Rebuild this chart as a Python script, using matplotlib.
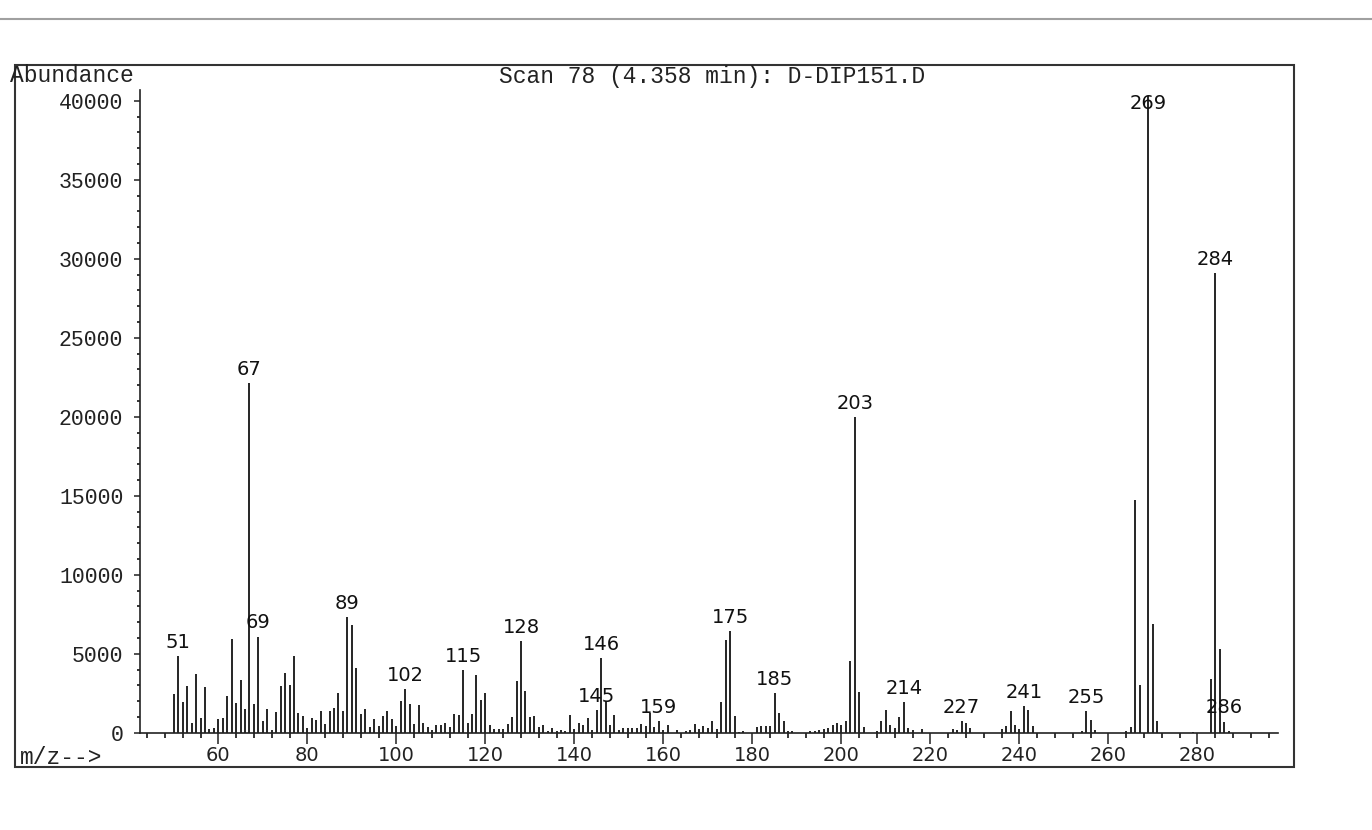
import matplotlib
matplotlib.use("Agg")
import matplotlib.pyplot as plt
from matplotlib.patches import Rectangle
from matplotlib.lines import Line2D
from matplotlib.ticker import MultipleLocator

# ---- data (m/z and abundance) ----
mz = [50, 51, 52, 53, 54, 55, 56, 57, 58, 59, 60, 61, 62, 63, 64, 65, 66, 67, 68, 69,
      70, 71, 72, 73, 74, 75, 76, 77, 78, 79, 80, 81, 82, 83, 84, 85, 86, 87, 88, 89,
      90, 91, 92, 93, 94, 95, 96, 97, 98, 99, 100, 101, 102, 103, 104, 105, 106, 107, 108, 109,
      110, 111, 112, 113, 114, 115, 116, 117, 118, 119, 120, 121, 122, 123, 124, 125, 126, 127, 128, 129,
      130, 131, 132, 133, 134, 135, 136, 137, 138, 139, 140, 141, 142, 143, 144, 145, 146, 147, 148, 149,
      150, 151, 152, 153, 154, 155, 156, 157, 158, 159, 160, 161, 163, 165, 166, 167, 168, 169,
      170, 171, 172, 173, 174, 175, 176, 177, 178, 181, 182, 183, 184, 185, 186, 187, 188, 189,
      193, 194, 195, 196, 197, 198, 199, 200, 201, 202, 203, 204, 205, 208, 209,
      210, 211, 212, 213, 214, 215, 216, 218, 225, 226, 227, 228, 229,
      236, 237, 238, 239, 240, 241, 242, 243, 254, 255, 256, 257,
      264, 265, 266, 267, 269, 270, 271, 279, 283, 284, 285, 286, 287]
abundance = [2430, 4850, 1920, 2975, 610, 3690, 930, 2890, 230, 320, 865, 950, 2320, 5910, 1880, 3330, 1520, 22150, 1815, 6080,
             760, 1520, 170, 1310, 2975, 3800, 3000, 4850, 1270, 1055, 275, 930, 800, 1390, 550, 1350, 1560, 2490, 1350, 7320,
             6815, 4070, 1160, 1480, 340, 890, 440, 1030, 1390, 845, 420, 2030, 2740, 1815, 550, 1730, 610, 380, 170, 505,
             485, 630, 340, 1180, 1140, 3950, 630, 1180, 3630, 2090, 2510, 485, 230, 230, 250, 550, 970, 3250, 5780, 2640,
             1010, 1080, 380, 485, 130, 275, 100, 170, 130, 1120, 230, 610, 485, 910, 200, 1450, 4700, 2030, 506, 1100,
             150, 316, 316, 295, 295, 550, 420, 1270, 360, 760, 200, 465, 150, 85, 150, 530, 250, 420,
             295, 760, 210, 1940, 5850, 6420, 1030, 40, 85, 360, 400, 400, 400, 2530, 1245, 720, 130, 85,
             85, 130, 170, 250, 316, 465, 610, 485, 760, 4560, 20000, 2575, 340, 85, 720,
             1410, 465, 275, 990, 1940, 295, 190, 230, 230, 190, 720, 610, 316,
             250, 440, 1370, 505, 250, 1710, 1455, 400, 130, 1350, 820, 190,
             105, 360, 14700, 3000, 40300, 6850, 760, 65, 3400, 29100, 5300, 700, 100]
labeled = [51, 67, 69, 89, 102, 115, 128, 145, 146, 159, 175, 185, 203, 214, 227, 241, 255, 269, 284, 286]
x_ticks = [60, 80, 100, 120, 140, 160, 180, 200, 220, 240, 260, 280]
y_ticks = [0, 5000, 10000, 15000, 20000, 25000, 30000, 35000, 40000]
title = "Scan 78 (4.358 min): D-DIP151.D"

W, H = 1372, 830
fig = plt.figure(figsize=(W / 100, H / 100), dpi=100)
fig.patch.set_facecolor("white")

# axes placement (pixel based)
ax_l, ax_r, ax_b, ax_t = 140, 1278, 732.7, 90
ax = fig.add_axes([ax_l / W, (H - ax_b) / H, (ax_r - ax_l) / W, (ax_b - ax_t) / H])
ax.set_xlim(42.4, 298.1)
ax.set_ylim(0, 40680)

ax.vlines(mz, 0, abundance, color="black", lw=1.2)

mono = ["Liberation Mono", "DejaVu Sans Mono"]
sans = ["DejaVu Sans"]

label_cap = 38950
amap = dict(zip(mz, abundance))
for m in labeled:
    ax.annotate(str(m), xy=(m, min(amap[m], label_cap)), xytext=(0, 3),
                textcoords="offset points", ha="center", va="bottom",
                fontsize=14, family=sans, color="#111")

for s in ["top", "right"]:
    ax.spines[s].set_visible(False)
for s in ["left", "bottom"]:
    ax.spines[s].set_linewidth(1.2)
    ax.spines[s].set_color("#222")

ax.set_xticks(x_ticks)
ax.set_xticklabels([str(v) for v in x_ticks], family=sans, fontsize=14)
ax.xaxis.set_minor_locator(MultipleLocator(4))
ax.set_yticks(y_ticks)
ax.set_yticklabels([str(v) for v in y_ticks], family=mono, fontsize=15.5)
ax.yaxis.set_minor_locator(MultipleLocator(1000))
ax.tick_params(axis="x", which="major", direction="out", length=8, width=1.1, pad=1.5, colors="#222")
ax.tick_params(axis="x", which="minor", direction="out", length=3.6, width=1.1)
ax.tick_params(axis="y", which="major", direction="out", length=4, width=1.1, pad=8, colors="#222")
ax.tick_params(axis="y", which="minor", direction="out", length=2.5, width=1.1)
ax.set_facecolor("white")

# frame and page texts
fig.add_artist(Rectangle((15 / W, (H - 767) / H), (1294 - 15) / W, (767 - 65) / H,
                         transform=fig.transFigure, fill=False, edgecolor="#333", lw=1.5))
fig.add_artist(Line2D([0, 1], [1 - 19 / H, 1 - 19 / H], transform=fig.transFigure,
                      color="#a0a0a0", lw=1.5))
fig.text(10 / W, 1 - 75 / H, "Abundance", family=mono, fontsize=16.5, ha="left", va="center", color="#222")
fig.text(712 / W, 1 - 76 / H, title, family=mono, fontsize=16.5, ha="center", va="center", color="#222")
fig.text(20 / W, 1 - 757 / H, "m/z-->", family=mono, fontsize=16.5, ha="left", va="center", color="#222")

fig.savefig("out.png", dpi=100, facecolor="white")
